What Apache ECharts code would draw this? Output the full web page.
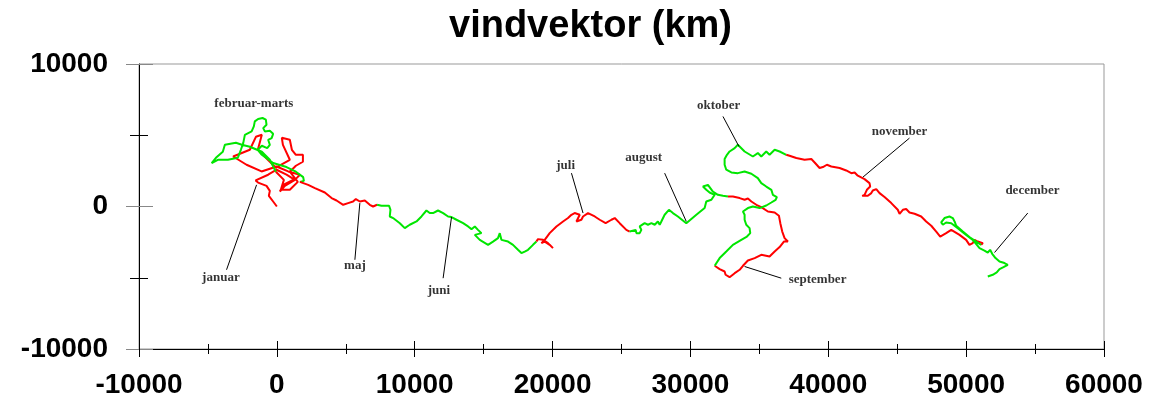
<!DOCTYPE html>
<html>
<head>
<meta charset="utf-8">
<title>vindvektor</title>
<script src="https://cdn.jsdelivr.net/npm/echarts@6/dist/echarts.min.js"></script>
<style>
  html, body { margin: 0; padding: 0; background: #fff; }
  #chart { width: 1155px; height: 415px; }
</style>
</head>
<body>
<div id="chart"></div>
<script>
// wind vector path (km east, km north), one array per labelled period
var januar = [[0,0],[-270,350],[-580,750],[-510,1100],[-750,1450],[-1360,1680],[-1540,1830],[-630,2230],[-20,2580],[700,2230],[1310,1870],[580,1450],[220,1050],[460,1520],[1430,1990],[1670,2230],[820,2460],[-20,2810],[-1110,2460],[-2200,2930],[-3170,3510],[-1960,3980],[-1520,4890],[-1090,5030],[-1380,3980],[-70,2720],[940,3280],[440,4330],[360,4820],[940,4680],[1090,3980],[1380,3630],[1890,3630],[1890,3140],[1380,2860],[940,2440],[1520,1730],[940,1170],[290,1170],[510,1870],[-70,2440]];
var februarMarts = [[-70,2440],[-510,3280],[-1090,3840],[-1960,4190],[-2540,4330],[-2970,4470],[-3770,4330],[-3920,3840],[-4420,3420],[-4730,3050],[-4280,3280],[-3550,3280],[-2830,3420],[-2610,3980],[-2440,4450],[-2320,5030],[-1830,5270],[-1670,5620],[-1600,5970],[-1360,6140],[-1040,6210],[-800,6090],[-750,5740],[-990,5500],[-870,5270],[-510,5310],[-270,5100],[-380,4800],[-630,4680],[-510,4330],[-700,4100],[-1090,4260],[-1380,3980],[-1090,3630],[-270,3050],[700,2770],[1380,2440],[1910,2060],[1960,1800],[1670,1730]];
var maj = [[1670,1730],[2270,1520],[2760,1290],[3480,980],[3970,590],[4330,420],[4810,120],[5170,240],[5530,350],[5730,520],[6020,350],[6380,420],[6740,120],[6980,0],[7270,120]];
var juni = [[7270,120],[7590,50],[8140,50],[8240,-230],[8190,-700],[8430,-810],[8920,-1170],[9280,-1520],[9640,-1280],[10130,-1050],[10490,-700],[10850,-280],[11090,-460],[11330,-460],[11690,-280],[12060,-460],[12420,-700],[12670,-740],[13030,-930],[13510,-1170],[13870,-1400],[14120,-1590],[14360,-1400],[14590,-1640],[14840,-1870],[14360,-1990],[14720,-2340],[15320,-2690],[15680,-2460],[16040,-2220],[16170,-1870],[16290,-2340],[16770,-2460],[17130,-2690],[17490,-3040],[17740,-3270],[17980,-3160],[18220,-3040],[18580,-2690],[18830,-2460]];
var juli = [[18830,-2460],[18940,-2290],[19310,-2340],[19670,-2570],[20030,-2920],[19790,-2690],[19430,-2460],[19190,-2570],[19430,-2340],[19790,-1870],[20280,-1400],[20760,-1050],[21120,-810],[21370,-580],[21600,-460],[21970,-580],[21730,-1050],[22090,-930],[22210,-700],[22570,-460],[22690,-350],[23060,-700],[23420,-930],[23850,-1170],[24270,-930],[24510,-810],[24870,-1170],[25350,-1640],[25590,-1760]];
var august = [[25590,-1760],[26030,-1640],[26080,-1870],[26320,-1870],[26440,-1640],[26320,-1400],[26680,-1170],[26920,-1280],[27170,-1170],[27410,-1280],[27640,-1050],[27770,-1280],[27890,-1050],[28130,-580],[28440,-230],[28730,-460],[29090,-700],[29700,-1170],[30430,-580],[31030,-110],[31150,350],[31520,470],[31760,820],[31390,980],[31150,1170],[30910,1400],[31270,1520],[31630,1050],[31990,820],[32360,750],[32720,700]];
var september = [[32720,700],[33080,700],[33570,590],[33930,470],[34170,560],[34420,350],[34780,120],[35140,-40],[35620,-350],[36110,-420],[36420,-650],[36520,-1170],[36660,-1760],[36830,-2220],[37070,-2460],[36780,-2460],[36470,-2850],[36110,-3160],[35740,-3510],[35140,-3390],[34660,-3620],[34170,-3790],[33810,-4160],[33570,-4440],[33210,-4680],[32840,-4960],[32550,-4790],[32480,-4560],[32120,-4390],[31760,-4160]];
var oktober = [[31760,-4160],[31630,-4090],[32120,-3620],[32600,-3160],[33080,-2690],[33690,-2340],[34100,-2110],[34340,-1870],[34290,-1520],[34050,-1280],[33930,-930],[33930,-580],[33810,-350],[34170,-110],[34530,0],[35020,-110],[35500,70],[35870,280],[36180,470],[36270,660],[35980,820],[35870,1170],[35500,1400],[35140,1640],[34890,1990],[34420,2300],[33930,2460],[33440,2340],[32970,2390],[32600,2580],[32480,2930],[32480,3330],[32650,3630],[32840,3860],[33210,4100],[33440,4330],[33930,3860],[34530,3510],[34890,3750],[35140,3510],[35500,3860],[35740,3630],[36110,3980],[36470,3860],[36950,3630]];
var november = [[36950,3630],[37190,3560],[37680,3400],[38280,3280],[38770,3330],[39010,3090],[39370,2700],[39610,2770],[39900,2930],[40220,2810],[40820,2700],[41300,2530],[41670,2340],[41910,2390],[42140,2160],[42630,1920],[42990,1640],[43040,1400],[42800,1170],[42630,820],[42460,750],[42870,750],[43120,940],[43230,1120],[43480,1220],[43720,940],[44080,660],[44570,240],[45040,-230],[45170,-510],[45410,-230],[45650,-180],[45890,-420],[46260,-510],[46740,-700],[47100,-1050],[47470,-1350],[47830,-1760],[48120,-2110],[48550,-1870],[48920,-1640],[49030,-1520],[49520,-1990],[50000,-2340],[50240,-2690],[50480,-2570],[50610,-2340],[50840,-2460],[51210,-2570],[51090,-2690]];
var december = [[51090,-2690],[50730,-2460],[50240,-2150],[49760,-1760],[49280,-1350],[49160,-1050],[49030,-810],[48790,-700],[48430,-810],[48190,-1120],[48310,-1280],[48550,-1120],[48920,-1170],[49390,-1520],[50000,-1990],[50480,-2340],[50970,-2920],[51330,-3090],[51570,-3230],[51740,-3040],[51890,-3320],[52130,-3620],[52420,-3860],[52780,-3970],[53020,-4090],[52710,-4250],[52420,-4390],[52220,-4630],[51930,-4790],[51570,-4910]];

// annotations: text position and leader line ends (same units)
var labelNames = ['januar', 'februar-marts', 'maj', 'juni', 'juli', 'august', 'september', 'oktober', 'november', 'december'];
var labelAt = [[-4060,-5010],[-1670,7210],[5660,-4160],[11750,-5920],[20950,2860],[26610,3420],[39220,-5150],[32050,7070],[45170,5240],[54810,1100]];
var leaderFrom = [[-3650,-4440],null,[5660,-3740],[12060,-5030],[21370,2340],[28130,2340],[36590,-5030],[32360,6320],[45890,4800],[54470,-460]];
var leaderTo = [[-1470,1520],null,[6020,240],[12670,-740],[22210,-460],[29700,-1050],[33930,-4210],[33520,4210],[42510,2060],[52060,-3230]];

var RED = '#ff0000';
var GREEN = '#00e600';

var chart = echarts.init(document.getElementById('chart'));

function pathSeries(name, data, color) {
	return {
		name: name,
		type: 'line',
		data: data,
		showSymbol: false,
		symbol: 'none',
		silent: true,
		lineStyle: { color: color, width: 2 },
		z: 3
	};
}

var leaders = [];
for (var i = 0; i < labelNames.length; i++) {
	if (leaderFrom[i]) {
		leaders.push({ coords: [leaderFrom[i], leaderTo[i]] });
	}
}

var textPoints = labelNames.map(function(n, i) {
	return { name: n, value: labelAt[i] };
});

var labelFont = 'Liberation Sans, Arial, sans-serif';

function plain(v) {
	return String(v);
}

function xAxisBase(inside, showLabel) {
	return {
		type: 'value',
		position: 'bottom',
		min: -10000,
		max: 60000,
		interval: 10000,
		axisLine: { show: !inside, onZero: false, lineStyle: { color: '#000', width: 1 } },
		axisTick: { show: true, inside: inside, length: 8, lineStyle: { color: '#000' } },
		minorTick: { show: true, splitNumber: 2, length: 5, lineStyle: { color: '#000' } },
		splitLine: { show: false },
		axisLabel: {
			show: showLabel,
			formatter: plain,
			margin: 22,
			color: '#000',
			fontSize: 28,
			fontWeight: 'bold',
			fontFamily: labelFont
		}
	};
}

function yAxisBase(inside, showLabel) {
	return {
		type: 'value',
		position: 'left',
		min: -10000,
		max: 10000,
		interval: 10000,
		axisLine: { show: !inside, onZero: false, lineStyle: { color: '#000', width: 1 } },
		axisTick: { show: true, inside: inside, length: inside ? 14 : 13, lineStyle: { color: '#888' } },
		minorTick: { show: true, splitNumber: 2, length: 9, lineStyle: { color: '#000' } },
		splitLine: { show: false },
		axisLabel: {
			show: showLabel,
			formatter: plain,
			margin: 31,
			color: '#000',
			fontSize: 28,
			fontWeight: 'bold',
			fontFamily: labelFont
		}
	};
}

chart.setOption({
	animation: false,
	backgroundColor: '#fff',
	title: {
		text: 'vindvektor (km)',
		left: 444,
		top: 3,
		textStyle: {
			fontSize: 38,
			fontWeight: 'bold',
			fontFamily: labelFont,
			color: '#000'
		}
	},
	grid: {
		left: 139,
		right: 51,
		top: 64,
		bottom: 66,
		show: true,
		borderColor: '#999',
		borderWidth: 1,
		backgroundColor: 'transparent'
	},
	xAxis: [xAxisBase(false, true), xAxisBase(true, false)],
	yAxis: [yAxisBase(false, true), yAxisBase(true, false)],
	series: [
		pathSeries('januar', januar, RED),
		pathSeries('februar-marts', februarMarts, GREEN),
		pathSeries('maj', maj, RED),
		pathSeries('juni', juni, GREEN),
		pathSeries('juli', juli, RED),
		pathSeries('august', august, GREEN),
		pathSeries('september', september, RED),
		pathSeries('oktober', oktober, GREEN),
		pathSeries('november', november, RED),
		pathSeries('december', december, GREEN),
		{
			type: 'lines',
			coordinateSystem: 'cartesian2d',
			silent: true,
			data: leaders,
			lineStyle: { color: '#000', width: 1, opacity: 1 },
			z: 4
		},
		{
			type: 'scatter',
			silent: true,
			symbolSize: 0,
			data: textPoints,
			label: {
				show: true,
				position: 'inside',
				formatter: '{b}',
				color: '#000',
				fontSize: 13,
				fontWeight: 'bold',
				fontFamily: 'Liberation Serif, Times New Roman, serif'
			},
			z: 5
		}
	]
});
</script>
</body>
</html>
